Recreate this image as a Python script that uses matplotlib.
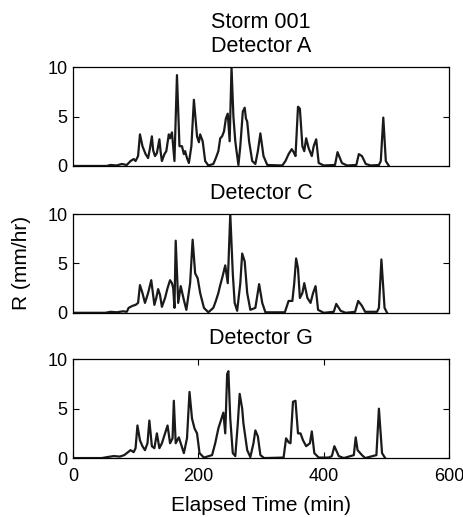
import numpy as np
import matplotlib
matplotlib.use('Agg')
import matplotlib.pyplot as plt

plt.rcParams['font.family'] = ['Liberation Sans', 'DejaVu Sans']

# ---- data (time in min, rain rate in mm/hr) ----
time_a = [0, 54, 60, 70, 78, 86, 92, 97, 100, 104, 107, 109, 111, 116, 120, 123, 126, 128, 131, 134,
          138, 140, 142, 146, 149, 153, 155, 158, 162, 166, 170, 174, 177, 179, 182, 185, 189, 193, 196, 198,
          201, 203, 207, 211, 216, 224, 228, 232, 235, 238, 241, 244, 247, 250, 253, 256, 259, 261, 264, 267,
          271, 274, 276, 278, 281, 286, 291, 295, 299, 304, 310, 334, 339, 344, 349, 352, 355, 359, 362, 366,
          369, 372, 376, 381, 384, 388, 392, 400, 418, 422, 429, 437, 452, 456, 461, 467, 475, 488, 491, 495,
          499, 504]
rain_a = [0, 0, 0.1, 0.05, 0.2, 0.1, 0.5, 0.7, 0.5, 1.0, 3.2, 2.6, 2.0, 1.2, 0.8, 1.8, 3.0, 1.6, 1.0, 1.3,
          2.7, 1.4, 0.5, 1.2, 1.5, 3.2, 2.8, 3.4, 0.5, 9.2, 2.0, 2.0, 1.2, 1.5, 0.8, 0.3, 2.0, 6.7, 4.5, 3.0,
          2.4, 3.2, 2.5, 0.5, 0.05, 0.2, 0.8, 1.5, 2.8, 3.0, 3.5, 4.8, 5.3, 2.5, 10.0, 5.0, 2.5, 1.5, 0.1, 2.0,
          5.5, 5.9, 4.8, 4.5, 2.5, 0.5, 0.2, 1.5, 3.3, 1.0, 0.1, 0.05, 0.5, 1.2, 1.7, 1.4, 1.0, 6.0, 5.8, 2.0,
          1.5, 2.8, 1.8, 1.0, 2.0, 2.7, 0.3, 0.05, 0.1, 1.4, 0.3, 0.05, 0.1, 1.2, 1.0, 0.2, 0.05, 0.1, 0.5, 4.9,
          0.5, 0]

time_c = [0, 52, 60, 70, 80, 86, 89, 95, 100, 104, 107, 111, 115, 120, 125, 130, 133, 136, 139, 142,
          147, 151, 155, 158, 160, 162, 164, 168, 172, 177, 181, 187, 191, 195, 199, 203, 209, 216, 224, 228,
          232, 235, 238, 243, 247, 251, 255, 258, 262, 267, 270, 274, 278, 283, 291, 297, 302, 307, 338, 344,
          350, 353, 356, 359, 362, 366, 369, 374, 379, 383, 387, 391, 400, 416, 420, 427, 435, 450, 455, 461,
          466, 485, 488, 492, 497, 501]
rain_c = [0, 0, 0.1, 0.05, 0.15, 0.1, 0.5, 0.7, 0.8, 1.0, 2.8, 2.0, 1.0, 2.0, 3.3, 0.8, 1.5, 2.4, 1.8, 0.6,
          1.5, 2.5, 3.3, 3.0, 2.5, 0.5, 7.3, 1.0, 2.7, 1.3, 0.3, 3.0, 7.4, 4.0, 3.5, 2.0, 0.5, 0.05, 0.5, 1.2,
          2.0, 2.8, 3.5, 4.8, 3.0, 10.0, 4.0, 1.0, 0.2, 3.0, 6.0, 5.2, 2.0, 0.3, 0.5, 2.9, 1.0, 0.05, 0.05, 1.2,
          1.2, 3.0, 5.5, 4.5, 1.5, 2.0, 3.0, 1.5, 1.0, 2.0, 2.7, 0.3, 0, 0.1, 0.9, 0.2, 0, 0.1, 1.2, 0.7,
          0.1, 0.1, 0.5, 5.4, 0.5, 0]

time_g = [0, 46, 55, 65, 75, 82, 86, 92, 97, 100, 103, 107, 111, 115, 119, 122, 126, 130, 134, 138,
          142, 147, 151, 155, 159, 161, 164, 169, 172, 177, 182, 186, 190, 194, 198, 202, 209, 222, 227, 232,
          237, 240, 243, 246, 248, 251, 255, 259, 263, 266, 270, 272, 278, 283, 288, 291, 295, 299, 305, 336,
          340, 344, 347, 351, 355, 359, 363, 367, 372, 378, 381, 385, 392, 408, 413, 417, 424, 432, 448, 451,
          454, 461, 466, 484, 488, 493, 498]
rain_g = [0, 0, 0.1, 0.2, 0.15, 0.3, 0.5, 0.8, 0.6, 1.0, 3.3, 1.8, 1.2, 0.8, 1.5, 3.8, 1.2, 1.0, 2.5, 1.0,
          1.5, 2.5, 3.3, 1.5, 2.0, 5.8, 1.5, 2.1, 1.5, 0.5, 2.0, 6.7, 4.0, 3.0, 2.5, 0.5, 0.05, 0.3, 1.5, 3.0,
          4.0, 4.6, 2.5, 8.5, 8.8, 4.0, 0.5, 0.2, 3.5, 6.5, 5.0, 3.5, 0.8, 0.1, 1.5, 2.8, 2.2, 0.3, 0, 0.05,
          2.0, 1.6, 1.5, 5.7, 5.8, 2.5, 2.5, 1.8, 1.2, 1.5, 2.7, 0.5, 0.05, 0.05, 0.2, 1.2, 0.2, 0, 0.3, 2.1,
          0.8, 0.3, 0, 0.3, 5.0, 0.5, 0]

detectors = ['A', 'C', 'G']
x_ticks = [0, 200, 400, 600]
y_ticks = [0, 5, 10]

fig = plt.figure(figsize=(4.64, 5.17), dpi=100)
# axes boxes in figure fractions (left, bottom, width, height)
boxes = [[0.157, 0.679, 0.811, 0.191],
         [0.157, 0.395, 0.811, 0.191],
         [0.157, 0.114, 0.811, 0.191]]
series = [(time_a, rain_a), (time_c, rain_c), (time_g, rain_g)]

for i, (name, (t, r)) in enumerate(zip(detectors, series)):
    ax = fig.add_axes(boxes[i])
    ax.plot(t, r, color='#1a1a1a', linewidth=1.6)
    ax.set_xlim(0, 600)
    ax.set_ylim(0, 10)
    ax.set_yticks(y_ticks)
    ax.tick_params(direction='in', length=4, width=0.8, labelsize=13, pad=4,
                   right=True, top=True)
    if i == 2:
        ax.set_xticks(x_ticks)
        ax.tick_params(axis='x', pad=7)
    else:
        ax.set_xticks([])
    if i == 0:
        ax.set_title('Storm 001\nDetector ' + name, fontsize=15.5, pad=11, linespacing=1.2)
    else:
        ax.set_title('Detector ' + name, fontsize=15.5, pad=11)
    for s in ax.spines.values():
        s.set_linewidth(0.9)
    if i == 1:
        ax.set_ylabel('R (mm/hr)', fontsize=15, labelpad=12)
    if i == 2:
        ax.set_xlabel('Elapsed Time (min)', fontsize=15, labelpad=8)

fig.savefig('out.png', dpi=100)
